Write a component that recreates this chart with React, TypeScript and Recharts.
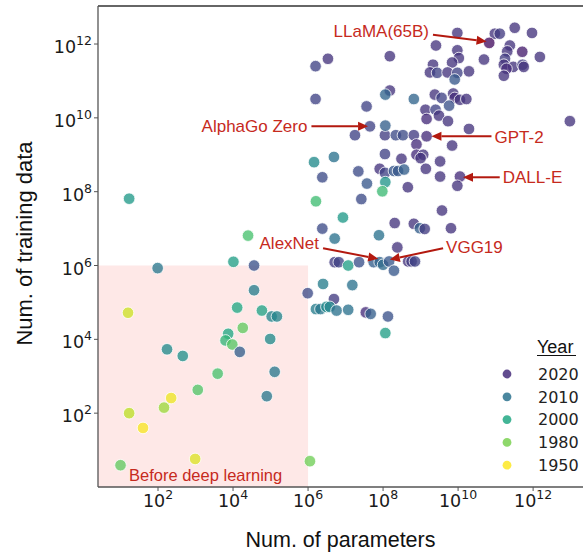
import React from "react";
import {
  ScatterChart,
  Scatter,
  XAxis,
  YAxis,
  ReferenceArea,
  ReferenceLine,
  Label,
} from "recharts";

// log10(num. of parameters), log10(num. of training data), year of the model
const logParams = [
  1.99, 4.01, 4.56, 4.56, 5.99, 1.2, 4.11, 4.77, 5.03, 5.17, 4.26, 3.87, 3.8, 3.98, 4.18, 4.99,
  2.24, 2.66, 3.59, 5.11, 3.06, 4.9, 2.35, 2.16, 1.23, 1.6, 1.0, 2.99, 6.05, 1.23, 4.4,
  6.38, 6.71, 6.93, 8.31, 7.89, 8.38, 8.82, 8.98, 9.11, 9.81, 9.57,
  6.71, 6.82, 7.07, 7.36, 7.75, 7.91, 8.0, 8.16, 8.29, 8.67, 8.76, 8.85,
  6.4, 7.18, 6.69, 6.21, 6.33, 6.49, 6.58, 6.76, 7.07, 7.54, 7.67, 8.13, 8.06,
  7.25, 8.05, 8.34, 8.53, 8.82, 9.16, 8.89, 9.84, 8.05, 8.49, 8.89, 9.07, 9.0, 9.52,
  6.16, 6.69, 6.38, 7.34, 7.91, 8.05, 8.29, 8.4, 8.56, 9.14, 9.52, 10.05, 9.98,
  7.57, 8.06, 7.98, 8.66, 6.21, 7.42,
  9.98, 9.41, 9.98, 10.02, 6.53, 6.2, 8.18, 10.69, 9.33, 9.25, 9.44, 9.84, 9.72, 9.98, 10.29, 9.91,
  6.2, 8.18, 8.06, 8.82, 7.56, 9.38, 9.56, 9.87, 9.91, 10.05, 10.22, 9.76, 9.13, 9.4, 9.16, 9.49,
  9.73, 7.65, 8.06, 10.29,
  10.98, 11.11, 11.51, 11.97, 10.83, 11.38, 11.31, 11.25, 11.22, 11.71, 12.18, 11.47, 11.29,
  11.72, 11.75, 11.22, 12.98,
];
const logData = [
  5.93, 6.1, 6.0, 5.33, 5.25, 4.72, 4.86, 4.78, 4.62, 4.62, 4.31, 4.15, 3.97, 3.86, 3.66, 4.01,
  3.73, 3.55, 3.07, 3.12, 2.63, 2.46, 2.41, 2.15, 2.0, 1.6, 0.59, 0.76, 0.7, 7.81, 6.81,
  7.0, 6.73, 7.3, 7.15, 6.82, 6.49, 7.13, 7.01, 6.99, 7.01, 7.49,
  6.09, 6.09, 6.0, 6.09, 6.09, 6.09, 6.02, 6.11, 5.86, 6.11, 6.11, 6.11,
  5.5, 5.47, 5.09, 4.82, 4.82, 4.88, 4.88, 4.78, 4.8, 4.73, 4.69, 4.62, 4.17,
  9.53, 9.53, 9.53, 9.53, 9.53, 9.5, 9.28, 9.25, 9.02, 8.89, 9.0, 9.0, 8.91, 8.82,
  8.8, 8.94, 8.39, 8.55, 8.62, 8.51, 8.56, 8.56, 8.6, 8.62, 8.41, 8.41, 8.16,
  8.22, 8.26, 8.01, 8.12, 7.74, 7.8,
  12.3, 11.96, 11.83, 11.62, 11.6, 11.4, 11.67, 11.58, 11.44, 11.23, 11.22, 11.5, 11.23, 11.22, 11.26, 11.04,
  10.51, 10.74, 10.63, 10.51, 10.31, 10.63, 10.54, 10.66, 10.54, 10.49, 10.51, 10.33, 10.22, 10.22, 9.97, 10.06,
  9.91, 9.77, 9.79, 9.7,
  12.28, 12.28, 12.44, 12.3, 12.03, 11.96, 11.8, 11.6, 11.44, 11.79, 11.65, 11.38, 11.33,
  11.44, 11.38, 11.14, 9.91,
];
const years = [
  2009, 2002, 2015, 2008, 2016, 1965, 2000, 2001, 2007, 2007, 1985, 2000, 1995, 1987, 2013, 2006,
  2006, 2005, 1990, 2009, 1988, 2009, 1955, 1975, 1970, 1952, 1985, 1960, 1982, 2003, 1990,
  2016, 2010, 2003, 2019, 2010, 2019, 2019, 2013, 2018, 2019, 2019,
  2018, 2017, 2002, 2015, 2013, 2012, 2011, 2014, 2014, 2019, 2018, 2017,
  2008, 2010, 2018, 2008, 2009, 2006, 2007, 2010, 2010, 2020, 2013, 2015, 2002,
  2017, 2018, 2016, 2016, 2018, 2020, 2020, 2019, 2017, 2019, 2020, 2019, 2019, 2019,
  2006, 2010, 2016, 2016, 2019, 2017, 2014, 2014, 2013, 2019, 2019, 2020, 2019,
  2014, 2004, 1993, 2019, 1992, 2016,
  2019, 2019, 2019, 2019, 2019, 2017, 2019, 2019, 2019, 2019, 2017, 2019, 2019, 2017, 2019, 2014,
  2017, 2019, 2012, 2012, 2017, 2019, 2017, 2019, 2020, 2019, 2019, 2015, 2019, 2017, 2020, 2019,
  2019, 2017, 2013, 2019,
  2019, 2018, 2019, 2019, 2022, 2019, 2019, 2018, 2019, 2021, 2019, 2019, 2020,
  2018, 2019, 2019, 2019,
];

const tickExps = [2, 4, 6, 8, 10, 12];
const legendYears = [2020, 2010, 2000, 1980, 1950];

// arrow start -> arrow tip, in log10 units
const annotations = [
  { text: "LLaMA(65B)", from: [9.33, 12.25], to: [10.76, 12.07], side: "left", dy: -3 },
  { text: "AlphaGo Zero", from: [6.09, 9.77], to: [7.6, 9.77], side: "left", dy: 0 },
  { text: "GPT-2", from: [10.89, 9.5], to: [9.29, 9.5], side: "right", dy: 1 },
  { text: "DALL-E", from: [11.11, 8.39], to: [10.13, 8.39], side: "right", dy: 0 },
  { text: "AlexNet", from: [6.4, 6.47], to: [7.87, 6.18], side: "left", dy: -5 },
  { text: "VGG19", from: [9.6, 6.47], to: [8.18, 6.16], side: "right", dy: -1 },
];

const RED = "#c62a1d";
const ARROW = "#b3190f";

const STOPS: [number, string][] = [
  [1950, "#fde725"],
  [1970, "#bddf26"],
  [1980, "#7ad151"],
  [1990, "#48c16e"],
  [2000, "#22a884"],
  [2005, "#21918c"],
  [2010, "#2c728e"],
  [2015, "#3b528b"],
  [2020, "#472d7b"],
  [2023, "#440154"],
];

function hex(c: string) {
  return [1, 3, 5].map((i) => parseInt(c.slice(i, i + 2), 16));
}

function yearColor(y: number) {
  if (y <= STOPS[0][0]) return STOPS[0][1];
  for (let i = 1; i < STOPS.length; i++) {
    if (y <= STOPS[i][0]) {
      const [y0, c0] = STOPS[i - 1];
      const [y1, c1] = STOPS[i];
      const t = (y - y0) / (y1 - y0);
      const a = hex(c0);
      const b = hex(c1);
      return `rgb(${a.map((v, k) => Math.round(v + (b[k] - v) * t)).join(",")})`;
    }
  }
  return STOPS[STOPS.length - 1][1];
}

const points = logParams.map((x, i) => ({ x, y: logData[i], year: years[i] }));

const Bubble = (props: any) => {
  const { cx, cy, payload } = props;
  if (cx == null || cy == null) return null;
  return (
    <circle
      cx={cx}
      cy={cy}
      r={5.8}
      fill={yearColor(payload.year)}
      fillOpacity={0.78}
      stroke="#fff"
      strokeWidth={0.8}
    />
  );
};

const XTick = ({ x, y, payload }: any) => (
  <text x={x} y={y + 14} textAnchor="middle" fontFamily="DejaVu Sans" fontSize={17.5} fill="#1a1a1a">
    10
    <tspan dy={-8} fontSize={12.5}>
      {payload.value}
    </tspan>
  </text>
);

const YTick = ({ x, y, payload }: any) => (
  <text x={x} y={y + 9} textAnchor="end" fontFamily="DejaVu Sans" fontSize={17.5} fill="#1a1a1a">
    10
    <tspan dy={-8} fontSize={12.5}>
      {payload.value}
    </tspan>
  </text>
);

const arrowShape = (a: (typeof annotations)[number]) => (p: any) => {
  const { x1, y1, x2, y2 } = p;
  if (x1 == null) return null;
  const ang = Math.atan2(y2 - y1, x2 - x1);
  const cos = Math.cos(ang);
  const sin = Math.sin(ang);
  const hl = 10;
  const hw = 4.5;
  const bx = x2 - hl * cos;
  const by = y2 - hl * sin;
  const head = `${x2},${y2} ${bx - hw * sin},${by + hw * cos} ${bx + hw * sin},${by - hw * cos}`;
  const left = a.side === "left";
  return (
    <g>
      <line x1={x1} y1={y1} x2={bx} y2={by} stroke={ARROW} strokeWidth={2} />
      <polygon points={head} fill={ARROW} />
      <text
        x={left ? x1 - 4 : x1 + 3}
        y={y1 + a.dy}
        textAnchor={left ? "end" : "start"}
        dominantBaseline="central"
        fontFamily="Liberation Sans, Arial, sans-serif"
        fontSize={17}
        fill={RED}
      >
        {a.text}
      </text>
    </g>
  );
};

export default function App() {
  return (
    <div style={{ position: "relative", width: 583, height: 555, background: "#fff" }}>
      <style>{"body{margin:0}"}</style>
      <ScatterChart width={583} height={555} margin={{ top: 6, right: 0, bottom: 0, left: 0 }}>
        <ReferenceArea
          x1={0.4}
          x2={6}
          y1={0}
          y2={6}
          fill="#fee8e7"
          fillOpacity={1}
          stroke="none"
          label={(p: any) => {
            const vb = p.viewBox;
            return (
              <text
                x={vb.x + 31}
                y={vb.y + vb.height - 6}
                fontFamily="Liberation Sans, Arial, sans-serif"
                fontSize={16.5}
                fill={RED}
              >
                Before deep learning
              </text>
            );
          }}
        />
        <XAxis
          type="number"
          dataKey="x"
          domain={[0.4, 13.33]}
          ticks={tickExps}
          allowDataOverflow
          height={68}
          tick={<XTick />}
          tickSize={4}
          axisLine={{ stroke: "#555", strokeWidth: 1.3 }}
          tickLine={{ stroke: "#555" }}
        >
          <Label
            value="Num. of parameters"
            position="insideBottom"
            offset={8}
            style={{ fontFamily: "Liberation Sans, Arial, sans-serif", fontSize: 21.5, fill: "#111" }}
          />
        </XAxis>
        <YAxis
          type="number"
          dataKey="y"
          domain={[0, 13.03]}
          ticks={tickExps}
          allowDataOverflow
          width={98}
          tick={<YTick />}
          tickSize={4}
          axisLine={{ stroke: "#555", strokeWidth: 1.3 }}
          tickLine={{ stroke: "#555" }}
        >
          <Label
            content={(p: any) => {
              const vb = p.viewBox;
              return (
                <text
                  transform={`translate(32, ${vb.y + vb.height / 2 - 3}) rotate(-90)`}
                  textAnchor="middle"
                  fontFamily="Liberation Sans, Arial, sans-serif"
                  fontSize={22}
                  fill="#111"
                >
                  Num. of training data
                </text>
              );
            }}
          />
        </YAxis>
        <ReferenceLine y={13.03} stroke="#333" strokeWidth={1.3} ifOverflow="visible" />
        <Scatter data={points} shape={<Bubble />} isAnimationActive={false} />
        {annotations.map((a) => (
          <ReferenceLine
            key={a.text}
            segment={[
              { x: a.from[0], y: a.from[1] },
              { x: a.to[0], y: a.to[1] },
            ]}
            shape={arrowShape(a)}
            zIndex={900}
          />
        ))}
      </ScatterChart>
      <svg
        width={583}
        height={555}
        style={{ position: "absolute", left: 0, top: 0, pointerEvents: "none" }}
      >
        <text x={537} y={353} fontFamily="Liberation Sans, Arial, sans-serif" fontSize={18} fill="#111">
          Year
        </text>
        <line x1={537} x2={576} y1={355.5} y2={355.5} stroke="#111" strokeWidth={1.2} />
        {legendYears.map((yr, i) => (
          <g key={yr}>
            <circle cx={507} cy={374 + i * 22.8} r={4.4} fill={yearColor(yr)} fillOpacity={0.85} />
            <text
              x={538}
              y={374 + i * 22.8 + 5.8}
              fontFamily="DejaVu Sans"
              fontSize={16}
              fill="#222"
            >
              {yr}
            </text>
          </g>
        ))}
      </svg>
    </div>
  );
}
